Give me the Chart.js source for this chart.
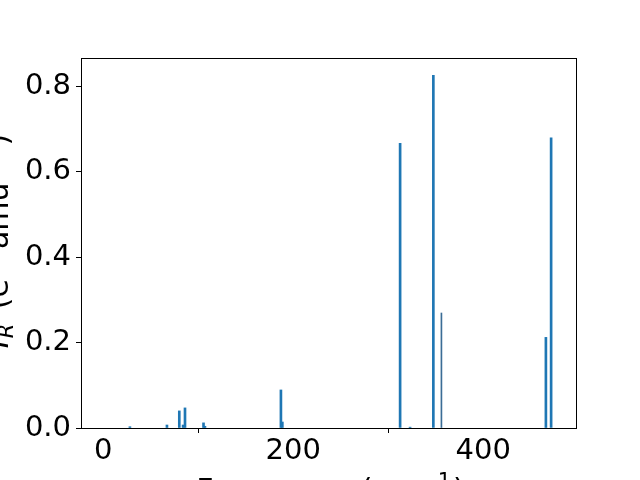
<!DOCTYPE html>
<html>
<head>
<meta charset="utf-8">
<script src="https://cdn.jsdelivr.net/npm/chart.js@4/dist/chart.umd.min.js"></script>
<style>
  html, body { margin: 0; padding: 0; background: #fff; }
  #wrap { width: 640px; height: 480px; }
</style>
</head>
<body>
<div id="wrap"><canvas id="spectrum" width="640" height="480"></canvas></div>
<script>
// peak positions (cm^-1) and Raman intensities
const freqs = [28, 67, 80, 84, 86, 105.5, 107, 187, 188.5, 312.5, 323, 347.5, 466, 471.5];
const intensities = [0.003, 0.007, 0.040, 0.007, 0.047, 0.012, 0.004, 0.089, 0.014, 0.666, 0.002, 0.825, 0.212, 0.679];
// the single thin line
const thinFreqs = [356];
const thinIntensities = [0.269];

const xTicks = [0, 200, 400];
const yTicks = [0.0, 0.2, 0.4, 0.6, 0.8];

const FONT = 'DejaVu Sans';
const TICK_SIZE = 29;
const LABEL_SIZE = 30;
const SUB_SIZE = 21;

function toPoints(xs, ys) {
  return xs.map((x, i) => ({ x: x, y: ys[i] }));
}

// draw a list of text pieces side by side, centred on 0
function drawPieces(ctx, parts) {
  let total = 0;
  parts.forEach(p => {
    ctx.font = p.f + ' "' + FONT + '"';
    p.w = ctx.measureText(p.t).width + (p.gap || 0);
    total += p.w;
  });
  let px = -total / 2;
  parts.forEach(p => {
    ctx.font = p.f + ' "' + FONT + '"';
    ctx.fillText(p.t, px + (p.gap || 0), p.dy);
    px += p.w;
  });
}

// full black frame round the plot area plus the two axis labels
const framePlugin = {
  id: 'frame',
  afterDraw(chart) {
    const { ctx, chartArea: a } = chart;
    ctx.save();
    ctx.strokeStyle = '#000';
    ctx.lineWidth = 1;
    ctx.strokeRect(Math.round(a.left) + 0.5, Math.round(a.top) + 0.5,
                   Math.round(a.right - a.left), Math.round(a.bottom - a.top));

    ctx.fillStyle = '#000';
    ctx.textBaseline = 'alphabetic';
    const big = LABEL_SIZE + 'px';
    const small = SUB_SIZE + 'px';

    // x label
    ctx.save();
    ctx.translate((a.left + a.right) / 2 + 2, 500);
    drawPieces(ctx, [
      { t: 'Frequency (cm', f: big, dy: 0 },
      { t: '\u22121', f: small, dy: -12, gap: 2 },
      { t: ')', f: big, dy: 0, gap: 2 }
    ]);
    ctx.restore();

    // y label, rotated
    ctx.translate(7.5, (a.top + a.bottom) / 2 - 2);
    ctx.rotate(-Math.PI / 2);
    drawPieces(ctx, [
      { t: 'I', f: 'italic ' + big, dy: 0 },
      { t: 'R', f: 'italic ' + small, dy: 5, gap: 1 },
      { t: ' (e', f: big, dy: 0, gap: 5 },
      { t: '2', f: small, dy: -12, gap: 2 },
      { t: ' amu', f: big, dy: 0, gap: 5 },
      { t: '\u22121', f: small, dy: -12, gap: 2 },
      { t: ')', f: big, dy: 0, gap: 4 }
    ]);
    ctx.restore();
  }
};

const ctx = document.getElementById('spectrum').getContext('2d');
new Chart(ctx, {
  type: 'bar',
  data: {
    datasets: [{
      data: toPoints(freqs, intensities),
      backgroundColor: '#1f77b4',
      barThickness: 2,
      grouped: false
    }, {
      data: toPoints(thinFreqs, thinIntensities),
      backgroundColor: '#3b6d96',
      barThickness: 1,
      grouped: false
    }]
  },
  options: {
    responsive: false,
    animation: false,
    layout: { padding: { left: 0, right: 64, top: 58, bottom: 0 } },
    plugins: {
      legend: { display: false },
      tooltip: { enabled: false }
    },
    scales: {
      x: {
        type: 'linear',
        offset: false,
        min: -23.5,
        max: 497.7,
        afterBuildTicks(scale) { scale.ticks = xTicks.map(v => ({ value: v })); },
        afterFit(scale) { scale.height = 52; },
        grid: { display: true, drawOnChartArea: false, drawTicks: true, tickLength: 5, color: '#000', lineWidth: 1 },
        border: { display: false },
        ticks: {
          color: '#000',
          font: { family: FONT, size: TICK_SIZE },
          padding: 1,
          maxRotation: 0,
          callback: v => String(v)
        }
      },
      y: {
        type: 'linear',
        min: 0,
        max: 0.8655,
        afterBuildTicks(scale) { scale.ticks = yTicks.map(v => ({ value: v })); },
        afterFit(scale) { scale.width = 81; },
        grid: { display: true, drawOnChartArea: false, drawTicks: true, tickLength: 5, color: '#000', lineWidth: 1 },
        border: { display: false },
        ticks: {
          color: '#000',
          font: { family: FONT, size: TICK_SIZE },
          padding: 5,
          callback: v => v.toFixed(1)
        }
      }
    }
  },
  plugins: [framePlugin]
});
</script>
</body>
</html>
